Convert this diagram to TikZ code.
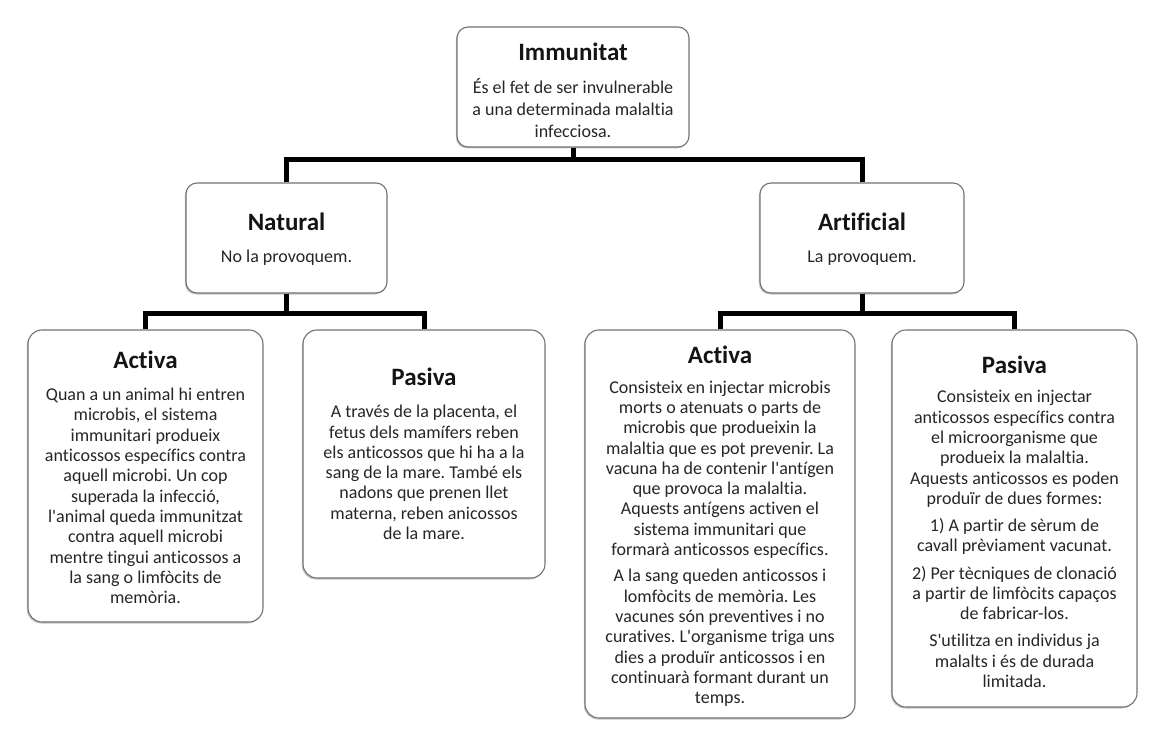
\documentclass[tikz,border=0pt]{standalone}
\usepackage{fontspec}
\setmainfont{Carlito}[Ligatures={TeXOff,CommonOff}]
\usetikzlibrary{shadows}
\frenchspacing
\begin{document}
\begin{tikzpicture}[x=1pt,y=-1pt,
  box/.style={draw=black!55, line width=1.1pt, fill=white, inner sep=0pt,
    drop shadow={opacity=0.45, shadow xshift=-1.2pt, shadow yshift=-1.5pt}},
  topbox/.style={box, rounded corners=11pt},
  lowbox/.style={box, rounded corners=14pt},
  ttl/.style={font=\fontsize{25}{29}\selectfont\bfseries, text=black!92, inner sep=0pt},
  body/.style={font=\fontsize{18}{20.3}\selectfont\frenchspacing, text=black!85, align=center, inner sep=0pt},
  conn/.style={line width=5pt, black, line join=miter}
]
\useasboundingbox (0,0) rectangle (1158,735);

% boxes
\node[topbox, minimum width=232pt, minimum height=120pt] (imm) at (573,87) {};
\node[topbox, minimum width=201pt, minimum height=110pt] (nat) at (286.5,238) {};
\node[topbox, minimum width=204pt, minimum height=110pt] (art) at (862,238) {};
\node[lowbox, minimum width=235pt, minimum height=292pt] (actL) at (145.5,476) {};
\node[lowbox, minimum width=242pt, minimum height=248pt] (pasL) at (424,454) {};
\node[lowbox, minimum width=270pt, minimum height=388pt] (actR) at (720,524) {};
\node[lowbox, minimum width=245pt, minimum height=377pt] (pasR) at (1014.5,518.5) {};

% connectors
\coordinate (j1) at (573,160);
\coordinate (j2) at (286.5,313);
\coordinate (j3) at (862,313);
\draw[conn] (imm.south) -- (j1);
\draw[conn] (nat.north) |- (j1);
\draw[conn] (art.north) |- (j1);
\draw[conn] (nat.south) -- (j2);
\draw[conn] (actL.north) |- (j2);
\draw[conn] (pasL.north) |- (j2);
\draw[conn] (art.south) -- (j3);
\draw[conn] (actR.north) |- (j3);
\draw[conn] (pasR.north) |- (j3);

% texts
\node[ttl] (immT) at (573,52) {Immunitat};
\node[body, font=\fontsize{18}{22}\selectfont\frenchspacing] (immB) at (573,108) {És el fet de ser invulnerable\\a una determinada malaltia\\infecciosa.};

\node[ttl] (natT) at (286.5,222) {Natural};
\node[body] (natB) at (286.5,258) {No la provoquem.};

\node[ttl] (artT) at (862,222) {Artificial};
\node[body] (artB) at (862,258) {La provoquem.};

\node[ttl] (actLT) at (145.5,360) {Activa};
\node[body] (actLB) at (145.5,496) {Quan a un animal hi entren\\microbis, el sistema\\immunitari produeix\\anticossos específics contra\\aquell microbi. Un cop\\superada la infecció,\\l'animal queda immunitzat\\contra aquell microbi\\mentre tingui anticossos a\\la sang o limfòcits de\\memòria.};

\node[ttl] (pasLT) at (424,377) {Pasiva};
\node[body] (pasLB) at (424,472.5) {A través de la placenta, el\\fetus dels mamífers reben\\els anticossos que hi ha a la\\sang de la mare. També els\\nadons que prenen llet\\materna, reben anicossos\\de la mare.};

\node[ttl] (actRT) at (720,355) {Activa};
\node[body] (actRB1) at (720,469.5) {Consisteix en injectar microbis\\morts o atenuats o parts de\\microbis que produeixin la\\malaltia que es pot prevenir. La\\vacuna ha de contenir l'antígen\\que provoca la malaltia.\\Aquests antígens activen el\\sistema immunitari que\\formarà anticossos específics.};
\node[body] (actRB2) at (720,638) {A la sang queden anticossos i\\lomfòcits de memòria. Les\\vacunes són preventives i no\\curatives. L'organisme triga uns\\dies a produïr anticossos i en\\continuarà formant durant un\\temps.};

\node[ttl] (pasRT) at (1014.5,365) {Pasiva};
\node[body] (pasRB1) at (1014.5,449) {Consisteix en injectar\\anticossos específics contra\\el microorganisme que\\produeix la malaltia.\\Aquests anticossos es poden\\produïr de dues formes:};
\node[body] (pasRB2) at (1014.5,536.5) {1) A partir de sèrum de\\cavall prèviament vacunat.};
\node[body] (pasRB3) at (1014.5,593) {2) Per tècniques de clonació\\a partir de limfòcits capaços\\de fabricar-los.};
\node[body] (pasRB4) at (1014.5,661) {S'utilitza en individus ja\\malalts i és de durada\\limitada.};
\end{tikzpicture}
\end{document}
